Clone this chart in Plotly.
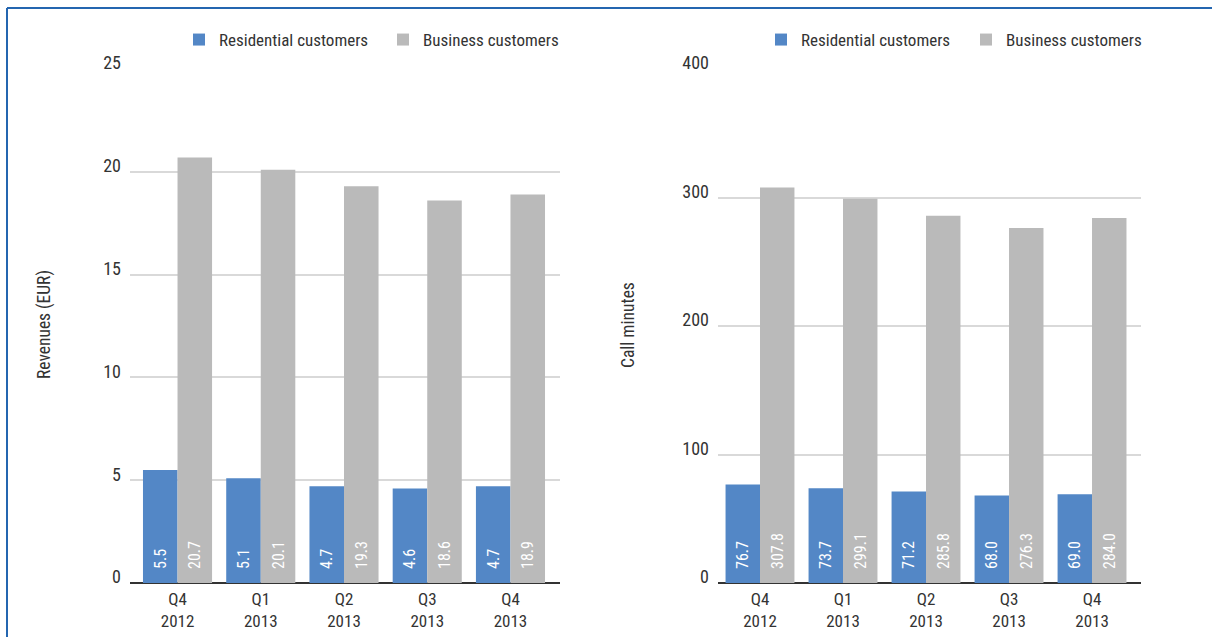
import plotly.graph_objects as go

# Quarterly data
quarters = ["Q4<br>2012", "Q1<br>2013", "Q2<br>2013", "Q3<br>2013", "Q4<br>2013"]
revenue_residential = [5.5, 5.1, 4.7, 4.6, 4.7]
revenue_business = [20.7, 20.1, 19.3, 18.6, 18.9]
minutes_residential = [76.7, 73.7, 71.2, 68.0, 69.0]
minutes_business = [307.8, 299.1, 285.8, 276.3, 284.0]

W, H = 1212, 637
BLUE = "#5387C6"
GREY = "#BABABA"
TEXT = "#333333"
FONT = "Roboto Condensed, Liberation Sans Narrow, Arial Narrow, sans-serif"
PAD = "\u00a0\u00a0\u00a0"  # lifts the value labels off the bar base


def px_x(p):
    return p / W


def px_y(p):
    return 1 - p / H


def bar(y, name, color, xa, ya, legend):
    return go.Bar(
        x=list(range(len(y))), y=y, name=name, marker_color=color,
        marker_line_width=0, xaxis=xa, yaxis=ya, legend=legend, showlegend=True,
        text=[f"{PAD}{v:.1f}" for v in y], textposition="inside",
        insidetextanchor="start", textangle=-90,
        textfont=dict(color="#ffffff", size=16, family=FONT),
        cliponaxis=False,
    )


fig = go.Figure()
fig.add_trace(bar(revenue_residential, "Residential customers", BLUE, "x", "y", "legend"))
fig.add_trace(bar(revenue_business, "Business customers", GREY, "x", "y", "legend2"))
fig.add_trace(bar(minutes_residential, "Residential customers", BLUE, "x2", "y2", "legend3"))
fig.add_trace(bar(minutes_business, "Business customers", GREY, "x2", "y2", "legend4"))

axis_x = dict(
    tickmode="array", tickvals=list(range(len(quarters))), ticktext=quarters,
    showgrid=False, zeroline=False, showline=False, ticks="",
    tickfont=dict(size=17, color=TEXT, family=FONT), ticklabelstandoff=4,
    fixedrange=True, automargin=False,
)
axis_y = dict(
    showgrid=True, gridcolor="#d9d9d9", gridwidth=1.5, zeroline=True,
    zerolinecolor="#333333", zerolinewidth=1.5, showline=False, ticks="",
    ticklabelshift=-6,
    tickfont=dict(size=18, color=TEXT, family=FONT), ticklabelstandoff=8,
    fixedrange=True, automargin=False,
)


def legend_at(x_px):
    return dict(
        orientation="h", x=px_x(x_px), y=px_y(40), xanchor="left", yanchor="middle",
        font=dict(size=17, color=TEXT, family=FONT), itemclick=False,
        bgcolor="rgba(0,0,0,0)",
    )


fig.update_layout(
    width=W, height=H, showlegend=True,
    margin=dict(l=0, r=0, t=0, b=0, autoexpand=False),
    paper_bgcolor="white", plot_bgcolor="white",
    barmode="group", bargap=0.17, bargroupgap=0,
    font=dict(family=FONT, color=TEXT, size=15),
    xaxis=dict(axis_x, domain=[px_x(130), px_x(560)], range=[-0.571, 4.595], anchor="y"),
    yaxis=dict(axis_y, domain=[px_y(583), px_y(69)], range=[0, 25], dtick=5, anchor="x"),
    xaxis2=dict(axis_x, domain=[px_x(718), px_x(1141)], range=[-0.506, 4.59], anchor="y2"),
    yaxis2=dict(axis_y, domain=[px_y(583), px_y(69)], range=[0, 400], dtick=100, anchor="x2"),
    legend=legend_at(179),
    legend2=legend_at(383),
    legend3=legend_at(761),
    legend4=legend_at(966),
    annotations=[
        dict(text="Revenues (EUR)", textangle=-90, xref="paper", yref="paper",
             x=px_x(44), y=px_y(325), xanchor="center", yanchor="middle",
             showarrow=False, font=dict(size=17.5, color=TEXT, family=FONT)),
        dict(text="Call minutes", textangle=-90, xref="paper", yref="paper",
             x=px_x(628), y=px_y(325), xanchor="center", yanchor="middle",
             showarrow=False, font=dict(size=17.5, color=TEXT, family=FONT)),
    ],
    shapes=[
        dict(type="line", xref="paper", yref="paper", x0=px_x(7), x1=1,
             y0=px_y(8), y1=px_y(8), line=dict(color="#2466b0", width=2)),
        dict(type="line", xref="paper", yref="paper", x0=px_x(7), x1=px_x(7),
             y0=px_y(8), y1=0, line=dict(color="#2466b0", width=2)),
    ],
)

fig.write_html("out.html")
